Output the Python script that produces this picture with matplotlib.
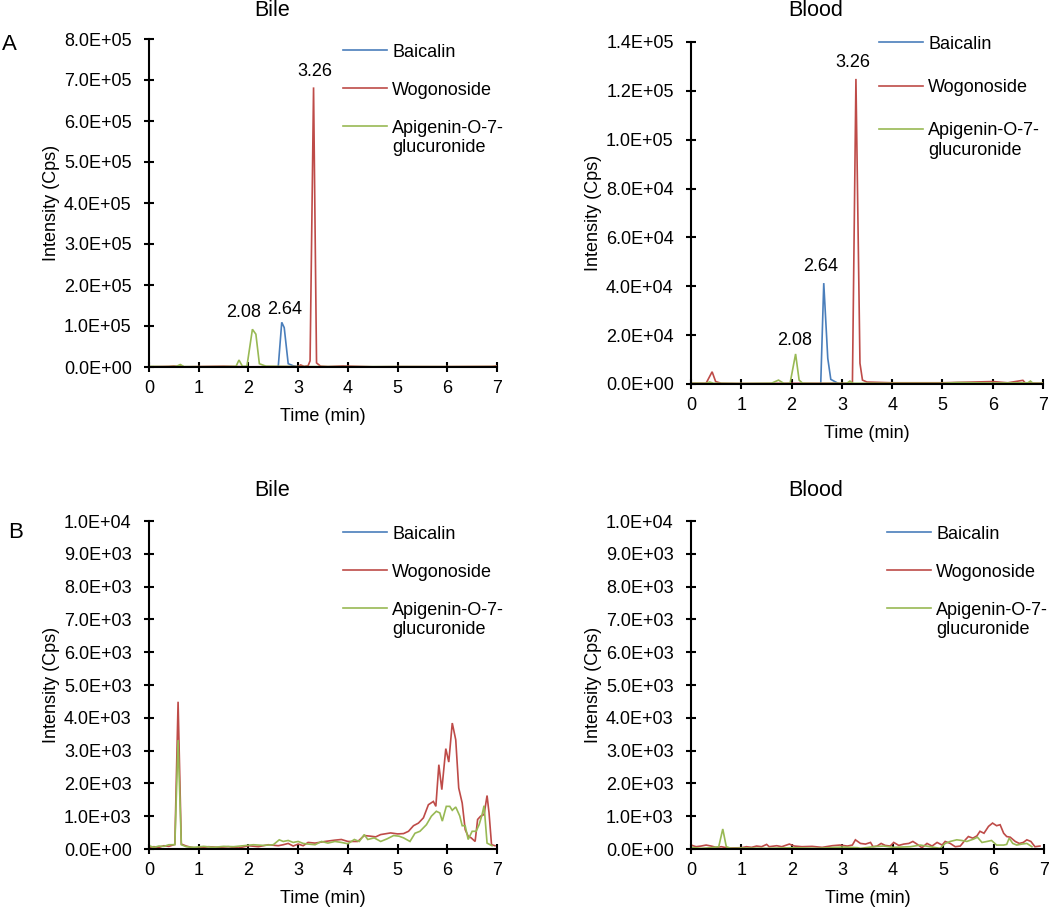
import matplotlib
matplotlib.use("Agg")
import matplotlib.pyplot as plt
from matplotlib.ticker import FuncFormatter, MultipleLocator
import numpy as np

plt.rcParams['font.family'] = ['Liberation Sans', 'DejaVu Sans']

series_names = ["Baicalin", "Wogonoside", "Apigenin-O-7-\nglucuronide"]
colors = ["#4A7EBB", "#BE4B48", "#98B954"]

# ---------------- Panel A, Bile ----------------
a_bile_baicalin_t = [0, 2.55, 2.60, 2.67, 2.72, 2.80, 2.90, 3.00, 7.00]
a_bile_baicalin_v = [0, 0, 1000, 109000, 96000, 8000, 3000, 500, 0]
a_bile_wogo_t = [0, 0.40, 0.50, 0.60, 0.65, 0.70, 1.50, 2.00, 2.50, 3.00, 3.05, 3.12, 3.20,
                 3.24, 3.31, 3.37, 3.45, 3.60, 3.90, 4.50, 5.00, 6.00, 6.90, 7.00]
a_bile_wogo_v = [500, 1500, 2500, 1000, 3000, 500, 2000, 500, 1000, 1000, 5000, 1500, 3000,
                 15000, 682000, 10000, 2000, 1000, 2500, 500, 1000, 1000, 1500, 2500]
a_bile_api_t = [0, 0.30, 0.55, 0.63, 0.70, 1.00, 1.50, 1.75, 1.81, 1.88, 1.97, 2.08, 2.15,
                2.22, 2.35, 2.60, 3.00, 3.50, 4.00, 5.00, 6.00, 7.00]
a_bile_api_v = [1500, 1000, 1500, 6000, 1000, 800, 1000, 1500, 17000, 1500, 2000, 92000, 80000,
                8000, 2000, 1500, 1000, 1000, 800, 1000, 800, 1000]

# ---------------- Panel A, Blood ----------------
a_blood_baicalin_t = [0, 2.58, 2.64, 2.72, 2.78, 2.86, 2.95, 7.00]
a_blood_baicalin_v = [0, 0, 41300, 10500, 1900, 1000, 0, 0]
a_blood_wogo_t = [0, 0.30, 0.42, 0.49, 0.60, 1.00, 2.00, 3.00, 3.21, 3.28, 3.36, 3.41, 3.50,
                  4.00, 5.00, 6.00, 6.30, 6.60, 6.65, 7.00]
a_blood_wogo_v = [300, 300, 5000, 1000, 300, 200, 300, 300, 300, 124900, 8500, 1600, 800,
                  500, 500, 1000, 500, 1500, 400, 300]
a_blood_api_t = [0, 0.30, 0.37, 0.45, 1.00, 1.60, 1.74, 1.85, 1.97, 2.08, 2.15, 2.22, 2.50,
                 3.10, 3.16, 3.22, 4.00, 5.00, 5.30, 6.00, 6.70, 6.75, 6.80, 7.00]
a_blood_api_v = [300, 300, 800, 300, 200, 300, 1600, 200, 300, 12300, 1600, 300, 200,
                 300, 1200, 300, 300, 300, 600, 400, 500, 1200, 300, 300]

# ---------------- Panel B, Bile ----------------
b_bile_baicalin_t = [0, 7.00]
b_bile_baicalin_v = [0, 0]
b_bile_wogo_t = [0, 0.10, 0.20, 0.30, 0.40, 0.50, 0.52, 0.585, 0.65, 0.75, 0.85, 1.00, 1.20,
                 1.40, 1.60, 1.80, 2.00, 2.20, 2.40, 2.60, 2.70, 2.80, 2.90, 3.00, 3.10,
                 3.20, 3.34, 3.54, 3.74, 3.87, 4.00, 4.20, 4.33, 4.46, 4.56, 4.66, 4.86,
                 5.00, 5.12, 5.22, 5.32, 5.42, 5.52, 5.62, 5.72, 5.77, 5.83, 5.89, 5.97,
                 6.03, 6.10, 6.17, 6.23, 6.30, 6.36, 6.42, 6.48, 6.56, 6.61, 6.67, 6.74,
                 6.80, 6.84, 6.89, 6.96]
b_bile_wogo_v = [50, 70, 50, 100, 80, 130, 150, 4490, 150, 90, 50, 30, 70,
                 50, 70, 30, 100, 70, 130, 100, 130, 170, 90, 150, 100,
                 200, 180, 230, 270, 290, 230, 230, 410, 390, 370, 440, 490,
                 460, 470, 540, 710, 790, 950, 1350, 1450, 1300, 2570, 1810, 3060,
                 2650, 3840, 3330, 1860, 1400, 590, 390, 340, 230, 900, 1000, 1050,
                 1630, 1100, 130, 100]
b_bile_api_t = [0, 0.10, 0.20, 0.30, 0.40, 0.50, 0.52, 0.585, 0.65, 0.75, 0.90, 1.10, 1.30,
                1.50, 1.70, 1.90, 2.10, 2.30, 2.50, 2.62, 2.70, 2.80, 2.90, 3.00, 3.10,
                3.20, 3.34, 3.47, 3.60, 3.74, 3.87, 4.00, 4.13, 4.23, 4.33, 4.40, 4.53,
                4.66, 4.79, 4.92, 5.03, 5.12, 5.25, 5.35, 5.45, 5.58, 5.68, 5.78, 5.85,
                5.90, 5.98, 6.05, 6.10, 6.17, 6.25, 6.30, 6.36, 6.42, 6.50, 6.58, 6.64,
                6.70, 6.74, 6.80, 6.90]
b_bile_api_v = [100, 50, 90, 80, 130, 130, 130, 3320, 130, 70, 50, 80, 50,
                80, 70, 100, 130, 110, 130, 280, 230, 260, 200, 230, 170,
                150, 130, 230, 180, 230, 200, 160, 290, 230, 440, 290, 340,
                230, 310, 410, 390, 340, 230, 480, 540, 740, 1000, 1150, 1100,
                850, 1300, 1300, 1180, 1280, 1010, 710, 710, 290, 540, 540, 740,
                1050, 1320, 180, 100]

# ---------------- Panel B, Blood ----------------
b_blood_baicalin_t = [0, 7.00]
b_blood_baicalin_v = [0, 0]
b_blood_wogo_t = [0, 0.10, 0.20, 0.30, 0.40, 0.50, 0.60, 0.70, 0.80, 1.00, 1.10, 1.20, 1.30,
                  1.40, 1.50, 1.55, 1.70, 1.80, 1.95, 2.05, 2.20, 2.40, 2.60, 2.80, 2.95,
                  3.10, 3.20, 3.26, 3.36, 3.46, 3.56, 3.61, 3.69, 3.77, 3.85, 3.95, 4.02,
                  4.12, 4.22, 4.32, 4.40, 4.48, 4.58, 4.68, 4.78, 4.88, 4.98, 5.04, 5.14,
                  5.24, 5.34, 5.44, 5.50, 5.59, 5.67, 5.73, 5.81, 5.90, 5.98, 6.06, 6.13,
                  6.20, 6.26, 6.33, 6.43, 6.51, 6.59, 6.66, 6.74, 6.82, 6.92]
b_blood_wogo_v = [120, 70, 90, 120, 90, 50, 70, 40, 30, 40, 70, 50, 90,
                  70, 140, 70, 100, 70, 150, 90, 70, 80, 50, 100, 120,
                  90, 120, 280, 170, 150, 200, 70, 90, 170, 110, 90, 200,
                  110, 150, 170, 230, 150, 40, 170, 90, 200, 120, 230, 170,
                  70, 90, 280, 380, 330, 400, 540, 480, 690, 790, 710, 740,
                  480, 380, 360, 230, 170, 200, 280, 230, 70, 90]
b_blood_api_t = [0, 0.20, 0.40, 0.55, 0.63, 0.70, 0.80, 1.00, 1.50, 2.00, 2.50, 3.00, 3.30,
                 3.36, 3.62, 3.82, 4.02, 4.35, 4.55, 4.74, 4.94, 5.04, 5.14, 5.27, 5.37,
                 5.47, 5.60, 5.68, 5.77, 5.87, 5.96, 6.06, 6.20, 6.26, 6.31, 6.38, 6.46,
                 6.56, 6.66, 6.76]
b_blood_api_v = [50, 20, 40, 70, 610, 70, 20, 30, 20, 40, 20, 60, 40,
                 20, 70, 90, 50, 70, 120, 70, 20, 170, 230, 280, 260,
                 230, 300, 360, 200, 230, 260, 120, 120, 140, 330, 170, 120,
                 150, 170, 70]

panels = [
    dict(rect=[149, 39, 497, 367], title="Bile", ymax=8e5, ystep=1e5, letter="A",
         data=[(a_bile_baicalin_t, a_bile_baicalin_v), (a_bile_wogo_t, a_bile_wogo_v),
               (a_bile_api_t, a_bile_api_v)],
         peaks=[(1, "3.26", 1, 8), (0, "2.64", 2, 6), (2, "2.08", -6, 9)],
         leg=(343, 44, 1.15), title_y=10),
    dict(rect=[691, 42, 1043, 384], title="Blood", ymax=1.4e5, ystep=2e4, letter=None,
         data=[(a_blood_baicalin_t, a_blood_baicalin_v), (a_blood_wogo_t, a_blood_wogo_v),
               (a_blood_api_t, a_blood_api_v)],
         peaks=[(1, "3.26", -2, 8.6), (0, "2.64", -2.5, 8.6), (2, "2.08", -1, 6.5)],
         leg=(879, 36, 1.45), title_y=10),
    dict(rect=[149, 521, 497, 849], title="Bile", ymax=1e4, ystep=1e3, letter="B",
         data=[(b_bile_baicalin_t, b_bile_baicalin_v), (b_bile_wogo_t, b_bile_wogo_v),
               (b_bile_api_t, b_bile_api_v)],
         peaks=[], leg=(343, 526, 1.15), title_y=491),
    dict(rect=[691, 521, 1044, 849], title="Blood", ymax=1e4, ystep=1e3, letter=None,
         data=[(b_blood_baicalin_t, b_blood_baicalin_v), (b_blood_wogo_t, b_blood_wogo_v),
               (b_blood_api_t, b_blood_api_v)],
         peaks=[], leg=(887, 526, 1.15), title_y=491),
]

W, H = 1050, 909
fig = plt.figure(figsize=(W / 100, H / 100), dpi=100)
FS = 13

fmt = FuncFormatter(lambda v, p: "{:.1E}".format(v))

for P in panels:
    x0, y0, x1, y1 = P["rect"]
    wpx, hpx = x1 - x0, y1 - y0
    ax = fig.add_axes([x0 / W, 1 - y1 / H, wpx / W, hpx / H])
    for (t, v), c, name in zip(P["data"], colors, series_names):
        ax.plot(t, v, color=c, lw=1.2, label=name, solid_joinstyle="miter")
    ax.set_xlim(0, 7)
    ax.set_ylim(0, P["ymax"])
    ax.xaxis.set_major_locator(MultipleLocator(1))
    ax.yaxis.set_major_locator(MultipleLocator(P["ystep"]))
    ax.yaxis.set_major_formatter(fmt)
    for s in ["top", "right"]:
        ax.spines[s].set_visible(False)
    for s in ["left", "bottom"]:
        ax.spines[s].set_linewidth(1.5)
        ax.spines[s].set_color("black")
    ax.tick_params(axis="both", direction="inout", length=7, width=1.5,
                   labelsize=FS, colors="black")
    ax.tick_params(axis="y", pad=9)
    ax.tick_params(axis="x", pad=6)
    ax.set_xlabel("Time (min)", fontsize=FS)
    ax.set_ylabel("Intensity (Cps)", fontsize=FS)
    ax.xaxis.set_label_coords(0.5, -41 / hpx)
    ax.yaxis.set_label_coords(-89 / wpx, 0.5)
    for spine in ax.spines.values():
        spine.set_zorder(5)

    # title
    fig.text(0.3535 * wpx / W + x0 / W, 1 - P["title_y"] / H, P["title"],
             fontsize=15.5, ha="center", va="center")
    if P["letter"] is not None:
        ly = 44.5 if P["letter"] == "A" else 533
        lx = 9.5 if P["letter"] == "A" else 16
        fig.text(lx / W, 1 - ly / H, P["letter"], fontsize=16, ha="center", va="center")

    # peak labels
    for si, lab, dx, dy in P["peaks"]:
        t, v = P["data"][si]
        k = int(np.argmax(v))
        ax.annotate(lab, xy=(t[k], v[k]), xytext=(dx, dy), textcoords="offset points",
                    ha="center", va="baseline", fontsize=FS, annotation_clip=False)

    # legend
    lx, ly, lsp = P["leg"]
    leg = ax.legend(loc="upper left", bbox_to_anchor=((lx - x0) / wpx, (y1 - ly) / hpx),
                    frameon=False, fontsize=FS, handlelength=2.45, handletextpad=0.28,
                    labelspacing=lsp, borderpad=0, borderaxespad=0)
    for col in leg._legend_handle_box.get_children():
        for row in col.get_children():
            row.align = "top"

fig.savefig("out.png", dpi=100)
